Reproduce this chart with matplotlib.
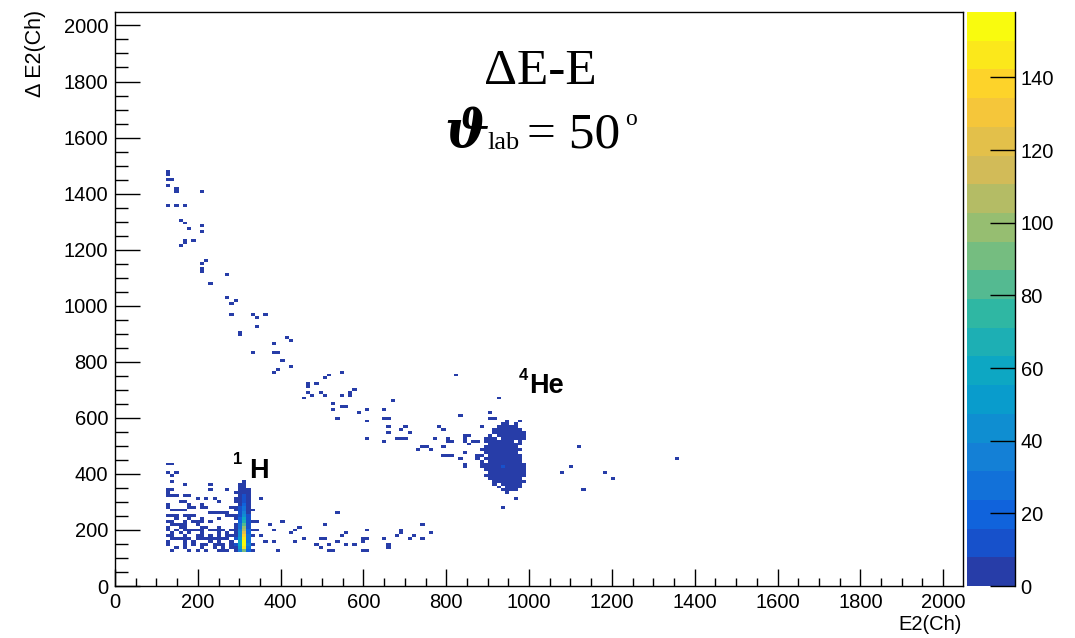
import numpy as np
import matplotlib.pyplot as plt
from matplotlib.colors import LinearSegmentedColormap, ListedColormap, BoundaryNorm
from matplotlib.ticker import MultipleLocator

plt.rcParams['font.family'] = ['Liberation Sans', 'DejaVu Sans']

# 200 x 200 channel bins over 0..2048
nbins = 200
edges = np.linspace(0, 2048, nbins + 1)
bw = edges[1] - edges[0]

# isolated single-count bins (E2, dE2)
single_E = [133, 133, 133, 141, 133, 150, 150, 206, 133, 150, 166, 158, 166, 182, 206, 213,
            166, 190, 166, 158, 221, 213, 213, 213, 206, 271, 230, 271, 293,
            278, 278, 334, 342, 366, 341, 302, 302, 382, 414, 429, 334, 382, 390, 397, 406,
            422, 390, 382, 550, 502, 518, 462, 462, 486, 470, 494, 455, 478, 502, 526, 526,
            542, 550, 566, 566, 583, 559, 550, 591, 606, 610, 614, 613, 646, 655, 663, 671,
            663, 663, 686, 655, 687, 695, 703, 687, 702, 695, 711, 735, 743, 751, 767, 776,
            784, 792, 792, 792, 800, 808, 816, 799, 792, 808, 816, 824, 832, 832, 840, 848,
            840, 848, 848, 856, 848, 848, 864, 856, 872, 880, 888, 888, 880, 894, 896, 886,
            911, 911, 921, 928, 943, 975,
            1119, 1104, 1079, 1184, 1208, 1127, 1360, 952, 968, 936,
            534, 502, 448, 455, 494, 510, 486, 494, 518, 518, 526, 550, 558, 542, 558, 583,
            599, 599, 599, 613, 613, 613, 646, 646, 663, 663, 679, 695, 695, 711, 727, 743,
            743, 759, 350, 374, 406, 447, 382, 342, 350, 421, 439, 366, 382, 390, 439, 342,
            886, 889, 889, 893, 886, 893]
single_dE = [1480, 1465, 1450, 1444, 1426, 1420, 1406, 1405, 1356, 1356, 1356, 1308, 1293, 1276,
             1284, 1261, 1236, 1236, 1220, 1212, 1166, 1156, 1147, 1133, 1124, 1109, 1077, 1029,
             1022, 1012, 972, 965, 957, 965, 923, 907, 897, 862, 884, 877, 830, 837, 830, 830,
             805, 781, 774, 765, 765, 742, 749, 717, 708, 717, 693, 693, 668, 676, 676, 652,
             627, 604, 676, 693, 676, 701, 644, 636, 620, 627, 588, 588, 532, 596, 627, 604,
             661, 573, 548, 530, 517, 532, 532, 532, 524, 571, 556, 549, 485, 493, 500, 485,
             532, 571, 556, 500, 493, 532, 524, 517, 517, 461, 467, 461, 749, 613, 453, 477,
             477, 429, 437, 541, 541, 532, 517, 517, 503, 461, 453, 461, 437, 517, 517, 532,
             564, 620, 604, 596, 668, 588, 588,
             493, 428, 404, 404, 380, 348, 460, 330, 316, 283,
             260, 221, 214, 174, 164, 164, 150, 140, 150, 132, 132, 181, 188, 156, 149, 149,
             172, 156, 132, 132, 196, 164, 172, 164, 149, 140, 181, 203, 188, 164, 181, 221,
             172, 188, 316, 221, 229, 212, 196, 202, 182, 188, 196, 156, 156, 132, 156, 235,
             445, 466, 425, 404, 486, 527]

# sparse 1H tail left of the ridge: row dE2 and the E2 of each filled bin
tail_dE = [437, 404, 390, 370, 359, 348, 340, 333, 327, 318, 316, 307, 301, 295, 285, 283,
           277, 271, 265, 261, 253, 247, 241, 235, 229, 217, 210, 200, 189, 182, 169, 164,
           159, 149, 138, 132]
tail_E = [[129, 141], [131, 150], [140], [140], [174, 230], [133, 141], [235, 271], [133],
          [172, 180], [133, 141, 149], [198, 221, 245], [255], [158, 166],
          [133, 182, 206, 214], [133], [182, 190, 279, 287], [206, 221], [140, 150, 160, 174],
          [229, 271], [242, 255, 263], [133, 141, 149, 166, 182, 190], [271, 279],
          [149, 182, 206, 255], [133, 141, 166, 174, 190, 198], [214, 230],
          [141, 149, 157, 166, 174, 198], [133, 157, 174, 206, 222, 255],
          [133, 149, 166, 182, 190, 198, 206, 214, 230, 238, 255, 263, 279, 287],
          [141, 157, 182, 214, 246, 271],
          [133, 141, 166, 174, 198, 206, 230, 246, 271, 279, 287],
          [149, 174, 206, 238, 263],
          [141, 157, 182, 198, 214, 222, 230, 246, 263, 271, 287],
          [133, 166, 190, 230, 255, 279],
          [133, 166, 190, 214, 222, 238, 246, 255, 263, 279, 287],
          [149, 174, 206, 238, 263, 279],
          [141, 182, 198, 222, 246, 255, 263, 271, 287]]

# 1H ridge: E2 columns, counts per dE2 row
ridge_E = [292, 302, 312, 322, 333]
ridge_dE = [128, 138, 149, 159, 169, 179, 189, 200, 210, 220, 230, 241, 251, 261, 271, 282,
            292, 302, 312, 323, 333, 343, 353, 364, 374]
ridge_counts = [
    [5, 7, 8, 0, 7, 6, 6, 0, 5, 4, 0, 4, 3, 0, 3, 2, 0, 2, 1, 0, 1, 0, 0, 0, 0],
    [38, 52, 62, 58, 52, 46, 40, 34, 29, 25, 21, 17, 14, 12, 10, 8, 6, 5, 4, 3, 2, 2, 1, 1, 0],
    [88, 145, 158, 154, 146, 136, 124, 110, 96, 83, 70, 58, 47, 38, 30, 24, 18, 14, 11, 8, 6, 4, 3, 2, 1],
    [20, 30, 32, 30, 27, 24, 21, 18, 15, 13, 11, 9, 8, 7, 6, 5, 4, 3, 2, 2, 1, 1, 0, 0, 0],
    [2, 0, 3, 0, 0, 2, 0, 1, 0, 0, 1, 0, 0, 0, 1, 0, 0, 0, 0, 0, 0, 0, 0, 0, 0],
]

# 4He blob: per dE2 row, filled E2 range and typical count
he_dE = [343, 353, 364, 374, 384, 394, 404, 415, 425, 435, 445, 456, 466, 476, 486, 497,
         507, 517, 527, 538, 548, 558, 568, 579]
he_lo = [937, 925, 917, 913, 905, 901, 901, 897, 897, 897, 897, 897, 901, 901, 897, 897,
         901, 901, 901, 905, 909, 913, 917, 925]
he_hi = [970, 982, 982, 986, 990, 994, 998, 994, 990, 990, 986, 986, 986, 982, 982, 982,
         982, 990, 998, 994, 990, 986, 982, 970]
he_count = [1, 2, 2, 3, 3, 4, 4, 5, 5, 5, 5, 5, 5, 5, 4, 4, 4, 3, 3, 3, 2, 2, 1, 1]
# empty bins inside the blob outline
he_gap_E = [937, 990, 901, 998, 897, 901, 982, 982, 901, 990, 970, 925, 917, 909, 998, 982,
            913, 986, 925, 960, 925]
he_gap_dE = [353, 384, 404, 415, 445, 466, 476, 497, 507, 507, 517, 527, 538, 548, 527, 568,
             568, 558, 579, 579, 364]
he_peak = (941, 420, 9)

xs, ys, ws = list(single_E), list(single_dE), [1] * len(single_E)
for y, row in zip(tail_dE, tail_E):
    xs += row
    ys += [y] * len(row)
    ws += [1] * len(row)
for x, col in zip(ridge_E, ridge_counts):
    xs += [x] * len(col)
    ys += ridge_dE
    ws += col
for y, lo, hi, c in zip(he_dE, he_lo, he_hi, he_count):
    row = np.arange(lo, hi + 1, bw)
    xs += list(row)
    ys += [y] * len(row)
    ws += [c] * len(row)
xs.append(he_peak[0]); ys.append(he_peak[1]); ws.append(he_peak[2])

H, _, _ = np.histogram2d(xs, ys, bins=[edges, edges], weights=ws)
gi = np.digitize(he_gap_E, edges) - 1
gj = np.digitize(he_gap_dE, edges) - 1
H[gi, gj] = 0
Hm = np.ma.masked_equal(H.T, 0)

# ROOT kBird palette, 20 contour bands
stops = [0.0, 0.125, 0.25, 0.375, 0.5, 0.625, 0.75, 0.875, 1.0]
red = [0.2082, 0.0592, 0.0780, 0.0232, 0.1802, 0.5301, 0.8186, 0.9956, 0.9764]
green = [0.1664, 0.3599, 0.5041, 0.6419, 0.7178, 0.7492, 0.7328, 0.7862, 0.9832]
blue = [0.5293, 0.8684, 0.8385, 0.7914, 0.6425, 0.4662, 0.3499, 0.1968, 0.0539]
bird = LinearSegmentedColormap.from_list('bird', list(zip(stops, zip(red, green, blue))))
ndiv = 20
cmap = ListedColormap([bird(int((i + 0.99) * 255 / ndiv) / 254) for i in range(ndiv)])
zmax = H.max()
norm = BoundaryNorm(np.linspace(0, zmax, ndiv + 1), ndiv)

fig = plt.figure(figsize=(10.75, 6.38), dpi=100)
ax = fig.add_axes([115 / 1075, 52 / 638, 848 / 1075, 574 / 638])
mesh = ax.pcolormesh(edges, edges, Hm, cmap=cmap, norm=norm)

ax.set_xlim(0, 2048)
ax.set_ylim(0, 2048)
ax.xaxis.set_major_locator(MultipleLocator(200))
ax.xaxis.set_minor_locator(MultipleLocator(50))
ax.yaxis.set_major_locator(MultipleLocator(200))
ax.yaxis.set_minor_locator(MultipleLocator(50))
ax.tick_params(axis='both', which='both', direction='in', width=1, labelsize=14.5)
ax.tick_params(axis='x', which='major', length=12.2, pad=5)
ax.tick_params(axis='x', which='minor', length=6.1)
ax.tick_params(axis='y', which='major', length=18, pad=5)
ax.tick_params(axis='y', which='minor', length=9)
for s in ax.spines.values():
    s.set_linewidth(1)

fig.text(962 / 1075, 1 - 625 / 638, 'E2(Ch)', ha='right', va='center', fontsize=14.5)
fig.text(35 / 1075, 1 - 10 / 638, '\u0394 E2(Ch)', ha='center', va='top', rotation=90, fontsize=15.5)

# colour scale
cax = fig.add_axes([967 / 1075, 52 / 638, 48 / 1075, 574 / 638])
cb = fig.colorbar(mesh, cax=cax, ticks=np.arange(0, 160, 20))
cb.outline.set_visible(False)
cax.tick_params(direction='in', length=18, width=1, labelsize=14.5, pad=4)
cax.minorticks_off()
cax.plot([1, 1], [0, 1], transform=cax.transAxes, color='k', lw=1, clip_on=False)

# titles
serif = ['Liberation Serif', 'DejaVu Serif']
fig.text(540 / 1075, 1 - 84 / 638, '\u0394E-E', ha='center', va='baseline', fontsize=37, family=serif)
fig.text(444 / 1075, 1 - 147 / 638, '\u03d1', ha='left', va='baseline', fontsize=38,
         family=['DejaVu Serif'], weight='bold', style='italic')
fig.text(487 / 1075, 1 - 149 / 638, 'lab', ha='left', va='baseline', fontsize=19, family=serif)
fig.text(527 / 1075, 1 - 147 / 638, '= 50', ha='left', va='baseline', fontsize=37, family=serif)
fig.text(625 / 1075, 1 - 125 / 638, 'o', ha='left', va='baseline', fontsize=17, family=serif)

# particle labels
ax.text(286, 478, '1', ha='left', va='top', fontsize=12, weight='bold')
ax.text(325, 385, 'H', ha='left', va='baseline', fontsize=19.5, weight='bold')
ax.text(974, 777, '4', ha='left', va='top', fontsize=12, weight='bold')
ax.text(1001, 688, 'He', ha='left', va='baseline', fontsize=19.5, weight='bold')

fig.savefig('out.png', dpi=100)
